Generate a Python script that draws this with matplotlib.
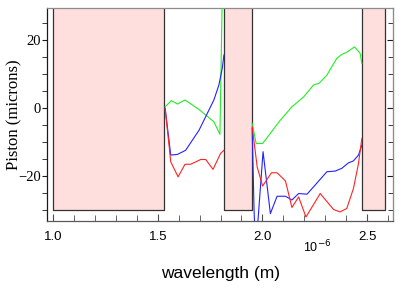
import matplotlib
matplotlib.use("Agg")
import matplotlib.pyplot as plt
import numpy as np
from matplotlib.ticker import MultipleLocator, FuncFormatter

# Gap bands (wavelength in metres)
bands_lo = [1.00e-6, 1.815e-6, 2.478e-6]
bands_hi = [1.53e-6, 1.948e-6, 2.586e-6]
band_ymin, band_ymax = -30, 40

# H-band data
h_green_x = [1.535, 1.565, 1.594, 1.630, 1.697, 1.768, 1.797, 1.810]
h_green_y = [0.4, 2.2, 1.2, 2.4, -0.4, -4.0, -7.7, 40.0]
h_blue_x = [1.535, 1.562, 1.594, 1.633, 1.697, 1.768, 1.792, 1.808, 1.816]
h_blue_y = [0.0, -13.8, -13.6, -12.4, -6.5, 2.4, 6.8, 11.7, 15.6]
h_red_x = [1.535, 1.562, 1.597, 1.630, 1.657, 1.705, 1.729, 1.764, 1.800, 1.816]
h_red_y = [0.0, -15.8, -20.2, -16.5, -16.5, -15.1, -15.1, -18.0, -13.3, -12.4]

# K-band data
k_green_x = [1.951, 1.970, 2.001, 2.086, 2.141, 2.197, 2.244, 2.271, 2.308,
             2.355, 2.379, 2.403, 2.440, 2.467, 2.475]
k_green_y = [-4.5, -10.4, -10.4, -3.5, 0.4, 3.3, 6.8, 7.3, 9.7,
             14.6, 15.8, 16.4, 18.0, 16.1, 13.1]
k_blue_x = [1.951, 1.960, 1.968, 2.003, 2.038, 2.070, 2.110, 2.141, 2.173,
            2.213, 2.252, 2.308, 2.348, 2.379, 2.411, 2.435, 2.459, 2.475]
k_blue_y = [-6.0, -30.0, -42.0, -12.8, -31.0, -25.9, -25.9, -27.0, -25.1,
            -25.3, -22.6, -18.7, -18.5, -17.7, -16.1, -15.5, -13.8, -10.9]
k_red_x = [1.951, 1.975, 2.001, 2.043, 2.070, 2.110, 2.141, 2.173, 2.208,
           2.276, 2.340, 2.371, 2.403, 2.435, 2.459, 2.475]
k_red_y = [-5.5, -17.3, -22.9, -19.0, -19.0, -21.4, -29.2, -26.1, -32.0,
           -25.1, -29.8, -30.5, -29.5, -23.6, -16.3, -8.9]

fig = plt.figure(figsize=(3.99, 2.89), dpi=100)
ax = fig.add_axes([0.118, 0.235, 0.867, 0.737])

for lo, hi in zip(bands_lo, bands_hi):
    ax.fill_between([lo, hi], band_ymin, band_ymax, facecolor="#ffdede",
                    edgecolor="#333333", linewidth=0.9, zorder=1)

um = 1e-6
for xs, ys, c in [(h_green_x, h_green_y, "#22ee22"), (h_blue_x, h_blue_y, "#2222ff"),
                  (h_red_x, h_red_y, "#ff2222"),
                  (k_green_x, k_green_y, "#22ee22"), (k_blue_x, k_blue_y, "#2222ff"),
                  (k_red_x, k_red_y, "#ff2222")]:
    ax.plot(np.array(xs) * um, ys, color=c, linewidth=0.8, zorder=3)

ax.set_xlim(0.971e-6, 2.624e-6)
ax.set_ylim(-33.2, 29.4)

ax.xaxis.set_major_locator(MultipleLocator(0.5e-6))
ax.xaxis.set_minor_locator(MultipleLocator(0.1e-6))
ax.xaxis.set_major_formatter(FuncFormatter(lambda v, p: f"{v / um:.1f}"))
ax.yaxis.set_major_locator(MultipleLocator(20))
ax.yaxis.set_minor_locator(MultipleLocator(5))

ax.tick_params(axis="x", which="both", direction="in", top=False, labelsize=9.5,
               pad=7, color="0.3")
ax.tick_params(axis="x", which="major", length=5)
ax.tick_params(axis="x", which="minor", length=4)
ax.tick_params(axis="y", which="both", direction="out", right=False, labelsize=10.5,
               pad=1, length=3.5, color="0.1")
for lab in ax.get_xticklabels():
    lab.set_fontfamily("Liberation Sans")
for lab in ax.get_yticklabels():
    lab.set_fontfamily("Liberation Serif")

sec = ax.secondary_yaxis("right")
sec.yaxis.set_major_locator(MultipleLocator(20))
sec.yaxis.set_minor_locator(MultipleLocator(5))
sec.tick_params(which="both", direction="in", labelright=False, color="0.1")
sec.tick_params(which="major", length=4.5)
sec.tick_params(which="minor", length=3.5)
sec.spines["right"].set_color("0.55")

ax.spines["top"].set_color("0.55")
ax.spines["right"].set_color("0.55")
ax.spines["left"].set_color("0.1")
ax.spines["bottom"].set_color("0.35")
for s in ax.spines.values():
    s.set_linewidth(0.9)

ax.set_ylabel("Piston (microns)", fontfamily="Liberation Serif", fontsize=12,
              labelpad=-3)
ax.set_xlabel("wavelength (m)", fontfamily="Liberation Sans", fontsize=12.5,
              labelpad=17)

# exponent label for the wavelength axis
ax.text(0.78, -0.12, r"10$^{-6}$", transform=ax.transAxes, ha="center", va="center",
        fontfamily="Liberation Sans", fontsize=9)

fig.savefig("out.png", dpi=100)
